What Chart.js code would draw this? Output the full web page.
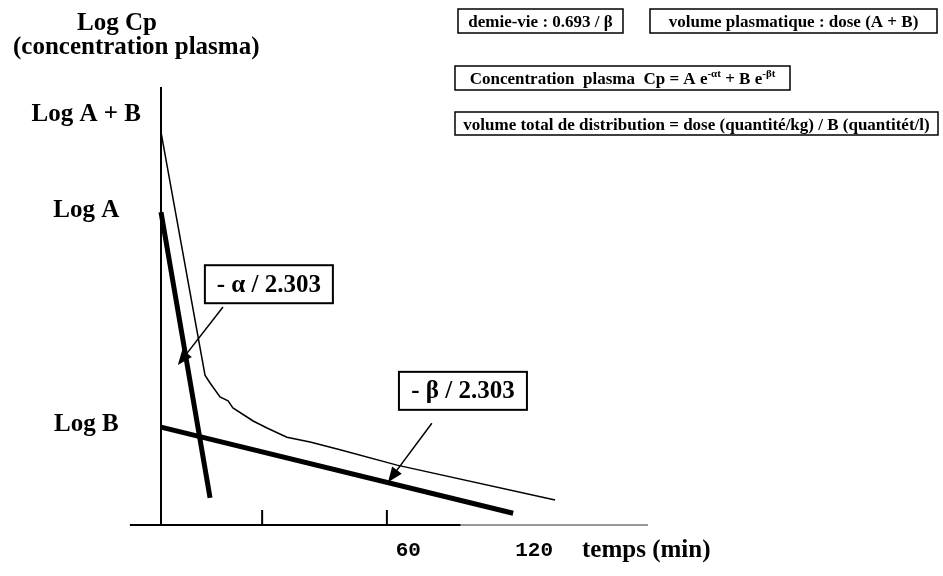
<!DOCTYPE html>
<html>
<head>
<meta charset="utf-8">
<script src="https://cdn.jsdelivr.net/npm/chart.js@4/dist/chart.umd.min.js"></script>
<style>
  html, body { margin: 0; background: #fff; }
  #wrap { width: 943px; height: 576px; }
</style>
</head>
<body>
<div id="wrap"><canvas id="chart"></canvas></div>
<script>
const SERIF = "'Liberation Serif', 'Times New Roman', serif";

// schematic time units, log concentration units
const curveTime = [0, 11.75, 13.1, 15.75, 17.9, 19.2, 24.6, 28.3, 33.6, 39.8, 47.8, 63, 105.2];
const curveLogCp = [8.99, 3.43, 3.25, 2.93, 2.84, 2.68, 2.38, 2.22, 2.01, 1.9, 1.72, 1.37, 0.57];
const alphaTime = [0, 13.1];
const alphaLogCp = [7.16, 0.62];
const betaTime = [0, 94];
const betaLogCp = [2.24, 0.27];

const yLabels = ["Log A + B", "Log A", "Log B"];
const yLabelPos = [9.4, 7.2, 2.3];
const xLabels = ["60", "120"];
const xLabelPos = [66, 99.6];
const xTickMarks = [27, 60.3];

const slopeNotes = [
  { text: "- α / 2.303", x: 28.8, y: 5.51, from: [16.55, 4.99], to: [4.5, 3.66] },
  { text: "- β / 2.303", x: 80.6, y: 3.07, from: [72.3, 2.33], to: [60.6, 0.98] },
];

// boxes at top right (pixel layout)
const formulaBoxes = [
  { left: 458, right: 623, top: 9, bottom: 33, parts: [["demie-vie : 0.693 / β", 0]] },
  { left: 650, right: 937, top: 9, bottom: 33, parts: [["volume plasmatique : dose (A + B)", 0]] },
  {
    left: 455, right: 790, top: 66, bottom: 90,
    parts: [["Concentration  plasma  Cp = A e", 0], ["-αt", 1], [" + B e", 0], ["-βt", 1]],
  },
  {
    left: 455, right: 938, top: 112, bottom: 135,
    parts: [["volume total de distribution = dose (quantité/kg) / B (quantitét/l)", 0]],
  },
];

const toPoints = (xs, ys) => xs.map((v, i) => ({ x: v, y: ys[i] }));

const lineSet = (data, width) => ({
  data,
  borderColor: "#000",
  borderWidth: width,
  pointRadius: 0,
  tension: 0,
  clip: false,
});

const drawArrow = (ctx, x0, y0, x1, y1) => {
  const ang = Math.atan2(y1 - y0, x1 - x0);
  ctx.beginPath();
  ctx.moveTo(x0, y0);
  ctx.lineTo(x1 - 10 * Math.cos(ang), y1 - 10 * Math.sin(ang));
  ctx.lineWidth = 1.5;
  ctx.stroke();
  ctx.beginPath();
  ctx.moveTo(x1, y1);
  ctx.lineTo(x1 - 15 * Math.cos(ang) + 6 * Math.sin(ang), y1 - 15 * Math.sin(ang) - 6 * Math.cos(ang));
  ctx.lineTo(x1 - 15 * Math.cos(ang) - 6 * Math.sin(ang), y1 - 15 * Math.sin(ang) + 6 * Math.cos(ang));
  ctx.closePath();
  ctx.fill();
};

const decorations = {
  id: "decorations",
  afterDraw(chart) {
    const { ctx } = chart;
    const { x, y } = chart.scales;
    const y0 = y.getPixelForValue(0);
    ctx.save();
    ctx.strokeStyle = "#000";
    ctx.fillStyle = "#000";

    // time axis
    ctx.lineWidth = 2;
    ctx.beginPath();
    ctx.moveTo(x.getPixelForValue(-8.3), y0);
    ctx.lineTo(x.getPixelForValue(80), y0);
    ctx.stroke();
    ctx.strokeStyle = "#777";
    ctx.lineWidth = 1.5;
    ctx.beginPath();
    ctx.moveTo(x.getPixelForValue(80), y0);
    ctx.lineTo(x.right, y0);
    ctx.stroke();
    ctx.strokeStyle = "#000";
    ctx.lineWidth = 2;

    xTickMarks.forEach((v) => {
      const px = x.getPixelForValue(v);
      ctx.beginPath();
      ctx.moveTo(px, y0);
      ctx.lineTo(px, y0 - 15);
      ctx.stroke();
    });

    // slope notes
    slopeNotes.forEach((n) => {
      drawArrow(ctx,
        x.getPixelForValue(n.from[0]), y.getPixelForValue(n.from[1]),
        x.getPixelForValue(n.to[0]), y.getPixelForValue(n.to[1]));
      const cx = x.getPixelForValue(n.x);
      const cy = y.getPixelForValue(n.y);
      ctx.lineWidth = 2;
      ctx.strokeRect(cx - 64, cy - 19, 128, 38);
      ctx.font = `bold 25px ${SERIF}`;
      ctx.textAlign = "center";
      ctx.textBaseline = "middle";
      ctx.fillText(n.text, cx, cy + 1);
    });

    // titles
    ctx.textAlign = "center";
    ctx.textBaseline = "alphabetic";
    ctx.font = `bold 25px ${SERIF}`;
    ctx.fillText("Log Cp", 117, 30);
    ctx.textAlign = "left";
    ctx.fillText("(concentration plasma)", 13, 54);
    ctx.fillText("temps (min)", 582, 557);

    // formula boxes
    ctx.lineWidth = 1.5;
    formulaBoxes.forEach((b) => {
      ctx.strokeRect(b.left, b.top, b.right - b.left, b.bottom - b.top);
      const widths = b.parts.map(([t, sup]) => {
        ctx.font = `bold ${sup ? 11 : 17}px ${SERIF}`;
        return ctx.measureText(t).width;
      });
      const total = widths.reduce((a, w) => a + w, 0);
      let px = (b.left + b.right) / 2 - total / 2;
      const base = (b.top + b.bottom) / 2 + 6;
      ctx.textAlign = "left";
      b.parts.forEach(([t, sup], i) => {
        ctx.font = `bold ${sup ? 11 : 17}px ${SERIF}`;
        ctx.fillText(t, px, sup ? base - 7 : base);
        px += widths[i];
      });
    });
    ctx.restore();
  },
};

const config = {
  type: "line",
  data: {
    datasets: [
      lineSet(toPoints(curveTime, curveLogCp), 1.5),
      lineSet(toPoints(alphaTime, alphaLogCp), 5),
      lineSet(toPoints(betaTime, betaLogCp), 5),
    ],
  },
  options: {
    responsive: true,
    maintainAspectRatio: false,
    animation: false,
    layout: { padding: { top: 88, right: 295, bottom: 0, left: 0 } },
    plugins: { legend: { display: false }, tooltip: { enabled: false } },
    scales: {
      x: {
        type: "linear",
        min: 0,
        max: 130,
        grid: { display: false },
        border: { display: false },
        afterBuildTicks: (scale) => {
          scale.ticks = xLabelPos.map((v) => ({ value: v }));
        },
        afterFit: (scale) => {
          scale.height = 51;
        },
        ticks: {
          padding: 5,
          color: "#000",
          maxRotation: 0,
          font: { family: "'Liberation Mono', monospace", size: 21, weight: "bold" },
          callback: (value, index) => xLabels[index],
        },
      },
      y: {
        type: "linear",
        min: 0,
        max: 10,
        grid: { display: false },
        border: { display: true, color: "#000", width: 2 },
        afterBuildTicks: (scale) => {
          scale.ticks = yLabelPos.map((v) => ({ value: v }));
        },
        afterFit: (scale) => {
          scale.width = 161;
        },
        ticks: {
          padding: 12,
          crossAlign: "center",
          color: "#000",
          font: { family: SERIF, size: 25, weight: "bold" },
          callback: (value, index) => yLabels[index],
        },
      },
    },
  },
  plugins: [decorations],
};

new Chart(document.getElementById("chart"), config);
</script>
</body>
</html>
